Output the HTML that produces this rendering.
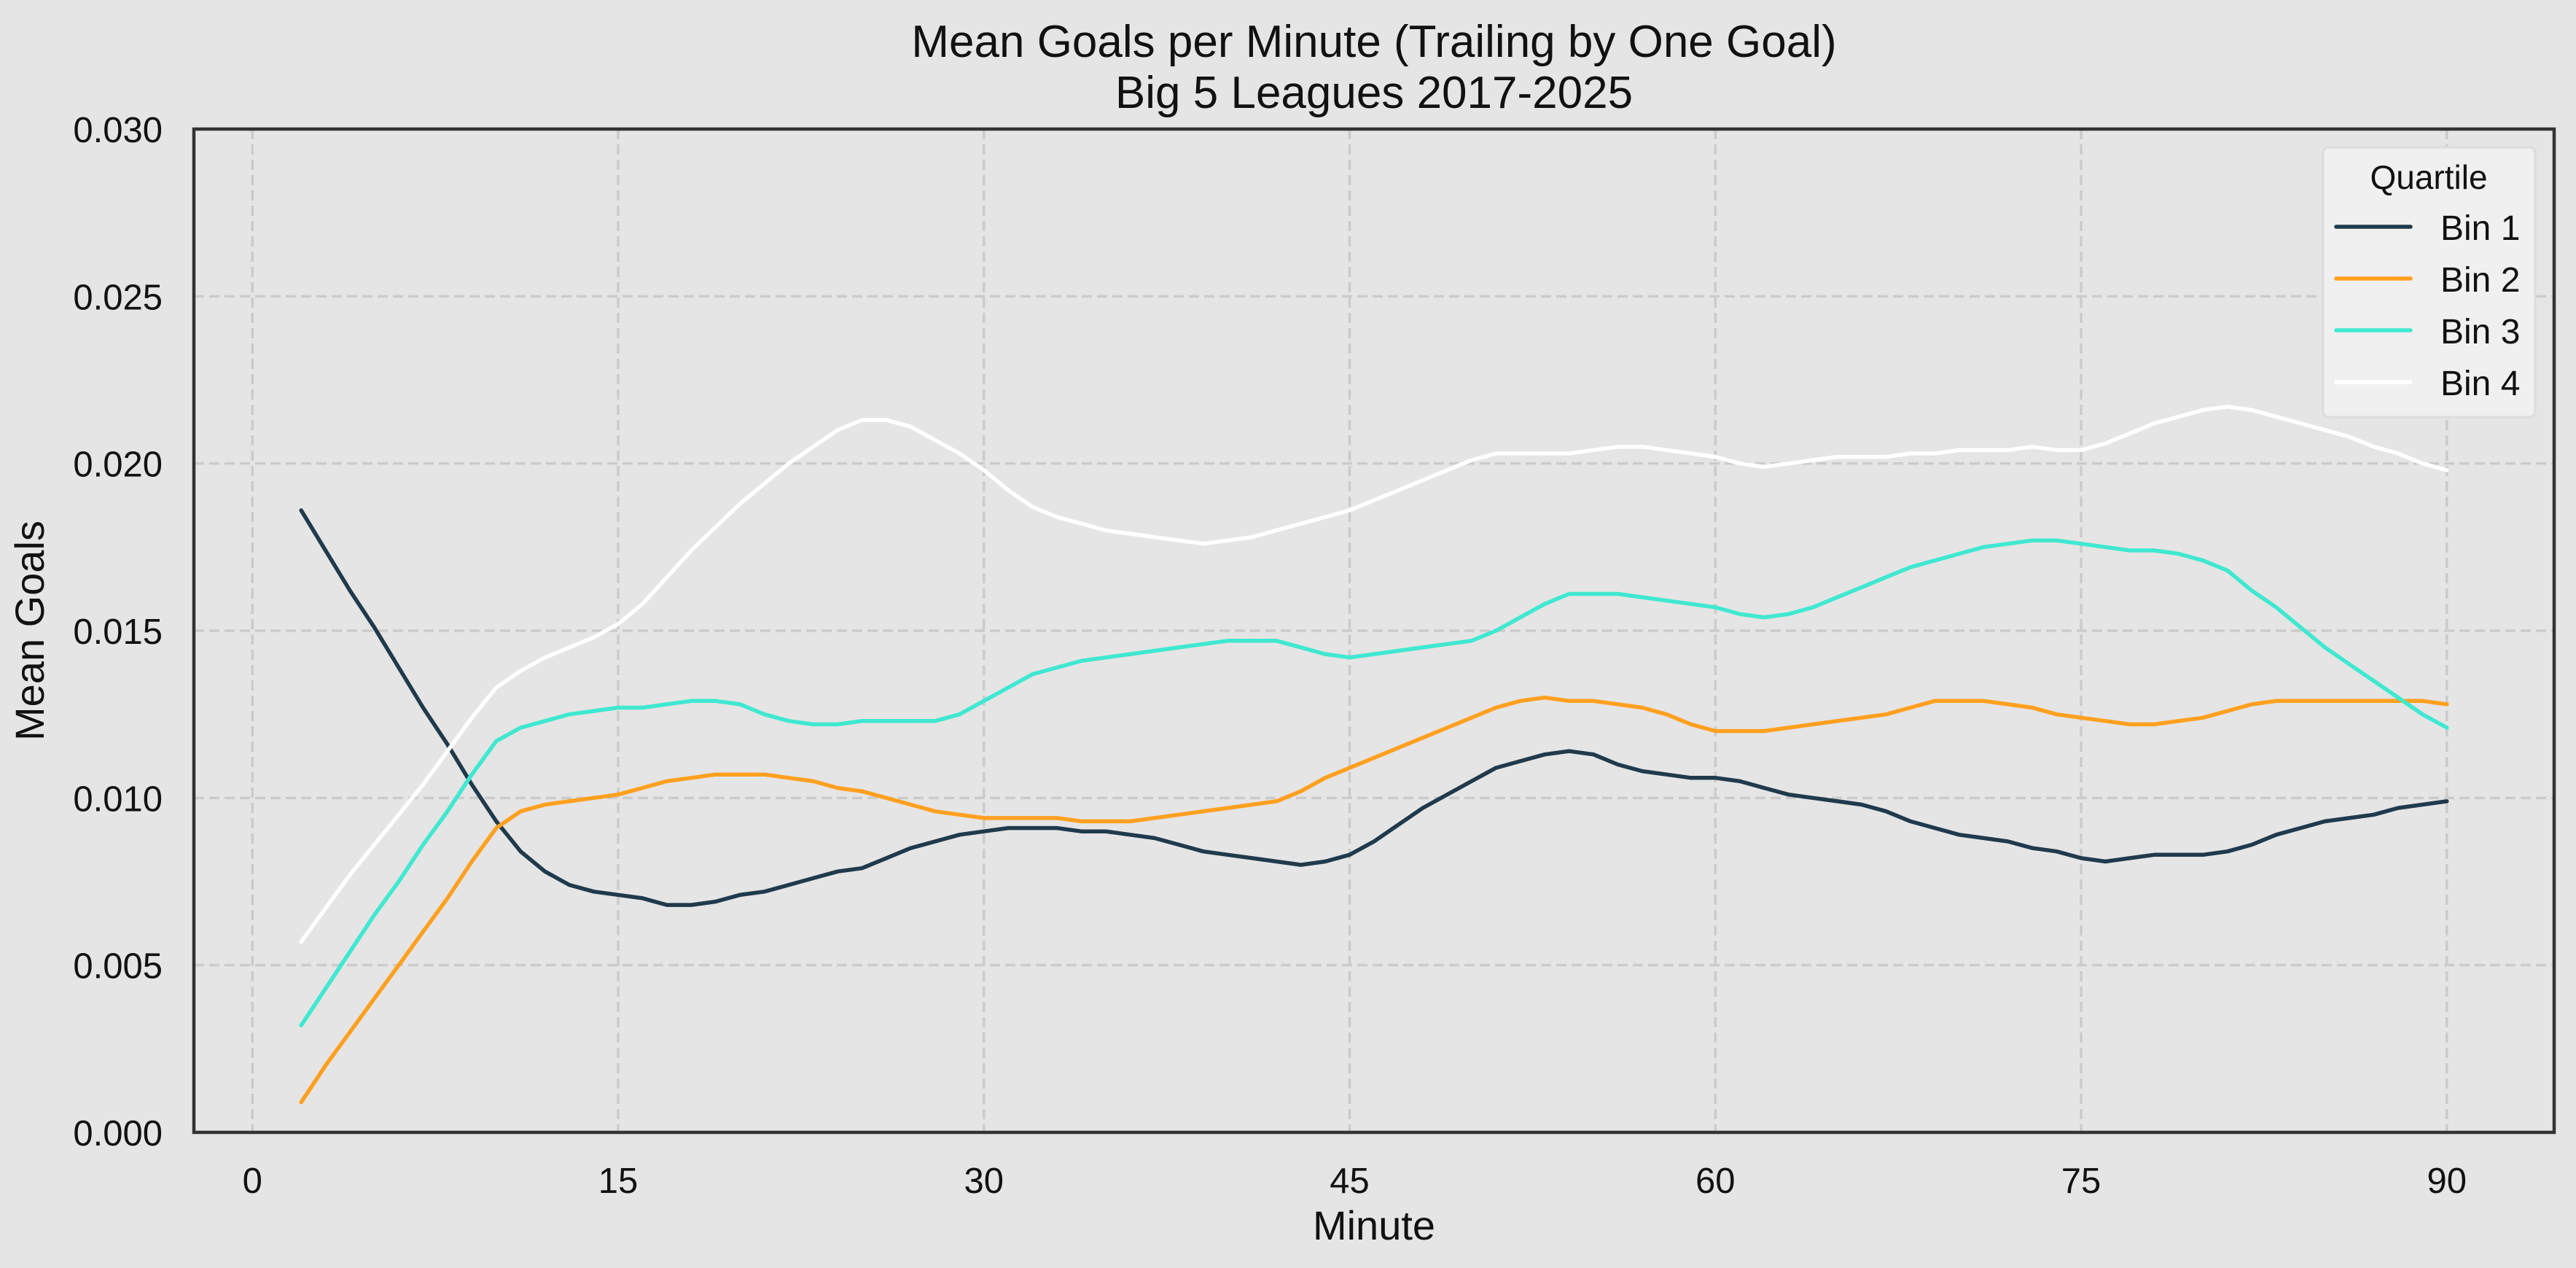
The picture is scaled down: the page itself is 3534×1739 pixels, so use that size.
<!DOCTYPE html>
<html><head><meta charset="utf-8"><style>
html,body{margin:0;padding:0;background:#e5e5e5;}
svg{display:block;font-family:"Liberation Sans",Arial,sans-serif;}
</style></head><body>
<svg id="chart" width="3534" height="1739" viewBox="0 0 3534 1739" xmlns="http://www.w3.org/2000/svg">
<rect x="0" y="0" width="3534" height="1739" fill="#e5e5e5"/>
<g id="grid"></g>
<g id="series"></g>
<rect x="266" y="177" width="3238" height="1376" fill="none" stroke="#333" stroke-width="4.5"/>
<g id="ticks"></g>
<text x="1885" y="78" font-size="62" text-anchor="middle" fill="#111">Mean Goals per Minute (Trailing by One Goal)</text>
<text x="1885" y="148" font-size="62" text-anchor="middle" fill="#111">Big 5 Leagues 2017-2025</text>
<text x="1885" y="1700" font-size="56" text-anchor="middle" fill="#111">Minute</text>
<text transform="translate(60,865) rotate(-90)" font-size="56" text-anchor="middle" fill="#111">Mean Goals</text>
<g id="legend">
<rect x="3187" y="202" width="291" height="370" rx="8" fill="#f0f0f0" stroke="#dcdcdc" stroke-width="3"/>
<text x="3332" y="259" font-size="46" text-anchor="middle" fill="#111">Quartile</text>
</g>
</svg>
<script>
const minutes = [];
for (let m = 2; m <= 90; m++) minutes.push(m);
const seriesNames = ["Bin 1","Bin 2","Bin 3","Bin 4"];
const bin1 = [0.0186,0.0174,0.0162,0.0151,0.0139,0.0127,0.0116,0.0104,0.0093,0.0084,0.0078,0.0074,0.0072,0.0071,0.0070,0.0068,0.0068,0.0069,0.0071,0.0072,0.0074,0.0076,0.0078,0.0079,0.0082,0.0085,0.0087,0.0089,0.0090,0.0091,0.0091,0.0091,0.0090,0.0090,0.0089,0.0088,0.0086,0.0084,0.0083,0.0082,0.0081,0.0080,0.0081,0.0083,0.0087,0.0092,0.0097,0.0101,0.0105,0.0109,0.0111,0.0113,0.0114,0.0113,0.0110,0.0108,0.0107,0.0106,0.0106,0.0105,0.0103,0.0101,0.0100,0.0099,0.0098,0.0096,0.0093,0.0091,0.0089,0.0088,0.0087,0.0085,0.0084,0.0082,0.0081,0.0082,0.0083,0.0083,0.0083,0.0084,0.0086,0.0089,0.0091,0.0093,0.0094,0.0095,0.0097,0.0098,0.0099];
const bin2 = [0.0009,0.0020,0.0030,0.0040,0.0050,0.0060,0.0070,0.0081,0.0091,0.0096,0.0098,0.0099,0.0100,0.0101,0.0103,0.0105,0.0106,0.0107,0.0107,0.0107,0.0106,0.0105,0.0103,0.0102,0.0100,0.0098,0.0096,0.0095,0.0094,0.0094,0.0094,0.0094,0.0093,0.0093,0.0093,0.0094,0.0095,0.0096,0.0097,0.0098,0.0099,0.0102,0.0106,0.0109,0.0112,0.0115,0.0118,0.0121,0.0124,0.0127,0.0129,0.0130,0.0129,0.0129,0.0128,0.0127,0.0125,0.0122,0.0120,0.0120,0.0120,0.0121,0.0122,0.0123,0.0124,0.0125,0.0127,0.0129,0.0129,0.0129,0.0128,0.0127,0.0125,0.0124,0.0123,0.0122,0.0122,0.0123,0.0124,0.0126,0.0128,0.0129,0.0129,0.0129,0.0129,0.0129,0.0129,0.0129,0.0128];
const bin3 = [0.0032,0.0043,0.0054,0.0065,0.0075,0.0086,0.0096,0.0107,0.0117,0.0121,0.0123,0.0125,0.0126,0.0127,0.0127,0.0128,0.0129,0.0129,0.0128,0.0125,0.0123,0.0122,0.0122,0.0123,0.0123,0.0123,0.0123,0.0125,0.0129,0.0133,0.0137,0.0139,0.0141,0.0142,0.0143,0.0144,0.0145,0.0146,0.0147,0.0147,0.0147,0.0145,0.0143,0.0142,0.0143,0.0144,0.0145,0.0146,0.0147,0.0150,0.0154,0.0158,0.0161,0.0161,0.0161,0.0160,0.0159,0.0158,0.0157,0.0155,0.0154,0.0155,0.0157,0.0160,0.0163,0.0166,0.0169,0.0171,0.0173,0.0175,0.0176,0.0177,0.0177,0.0176,0.0175,0.0174,0.0174,0.0173,0.0171,0.0168,0.0162,0.0157,0.0151,0.0145,0.0140,0.0135,0.0130,0.0125,0.0121];
const bin4 = [0.0057,0.0067,0.0077,0.0086,0.0095,0.0104,0.0114,0.0124,0.0133,0.0138,0.0142,0.0145,0.0148,0.0152,0.0158,0.0166,0.0174,0.0181,0.0188,0.0194,0.0200,0.0205,0.0210,0.0213,0.0213,0.0211,0.0207,0.0203,0.0198,0.0192,0.0187,0.0184,0.0182,0.0180,0.0179,0.0178,0.0177,0.0176,0.0177,0.0178,0.0180,0.0182,0.0184,0.0186,0.0189,0.0192,0.0195,0.0198,0.0201,0.0203,0.0203,0.0203,0.0203,0.0204,0.0205,0.0205,0.0204,0.0203,0.0202,0.0200,0.0199,0.0200,0.0201,0.0202,0.0202,0.0202,0.0203,0.0203,0.0204,0.0204,0.0204,0.0205,0.0204,0.0204,0.0206,0.0209,0.0212,0.0214,0.0216,0.0217,0.0216,0.0214,0.0212,0.0210,0.0208,0.0205,0.0203,0.0200,0.0198];
const xTicks = [0,15,30,45,60,75,90];
const yTicks = [0,0.005,0.010,0.015,0.020,0.025,0.030];
const yTickLabels = ["0.000","0.005","0.010","0.015","0.020","0.025","0.030"];

const NS = "http://www.w3.org/2000/svg";
const X0 = 266, X1 = 3504, Y0 = 1553, Y1 = 177;
const xMin = -2.4, xMax = 94.4, yMin = 0, yMax = 0.030;
function xs(v){ return X0 + (v - xMin) / (xMax - xMin) * (X1 - X0); }
function ys(v){ return Y0 - (v - yMin) / (yMax - yMin) * (Y0 - Y1); }
function mk(tag, attrs){ const e = document.createElementNS(NS, tag); for (const k in attrs) e.setAttribute(k, attrs[k]); return e; }

const grid = document.getElementById('grid');
const ticks = document.getElementById('ticks');
xTicks.forEach(t => {
  const g = mk('line', {x1: xs(t), x2: xs(t), y1: Y1, y2: Y0, stroke: '#cbcbcb', 'stroke-width': 3.5, 'stroke-dasharray': '14 7'});
  
  
  grid.appendChild(g);
  const l = mk('text', {x: xs(t), y: 1636, 'font-size': 49, 'text-anchor': 'middle', fill: '#111'});
  l.textContent = String(t);
  
  
  ticks.appendChild(l);
});
yTicks.forEach((t, i) => {
  if (i > 0 && i < yTicks.length - 1) {
    const g = mk('line', {x1: X0, x2: X1, y1: ys(t), y2: ys(t), stroke: '#cbcbcb', 'stroke-width': 3.5, 'stroke-dasharray': '14 7'});
    
    
    grid.appendChild(g);
  }
  const l = mk('text', {x: 223, y: ys(t) + 18, 'font-size': 49, 'text-anchor': 'end', fill: '#111'});
  l.textContent = yTickLabels[i];
  
  
  ticks.appendChild(l);
});

const colors = ['#203a4c', '#ffa020', '#40e8d0', '#ffffff'];
const allSeries = [bin1, bin2, bin3, bin4];
const sg = document.getElementById('series');
allSeries.forEach((vals, si) => {
  const d = vals.map((v, i) => (i ? 'L' : 'M') + xs(minutes[i]).toFixed(1) + ' ' + ys(v).toFixed(1)).join(' ');
  const p = mk('path', {d: d, fill: 'none', stroke: colors[si], 'stroke-width': 5.5, 'stroke-linejoin': 'round', 'stroke-linecap': 'round'});
  
  
  sg.appendChild(p);
});

const lg = document.getElementById('legend');
seriesNames.forEach((n, i) => {
  const y = 311 + i * 71;
  const ln = mk('line', {x1: 3205, x2: 3307, y1: y, y2: y, stroke: colors[i], 'stroke-width': 5.5, 'stroke-linecap': 'round'});
  
  
  lg.appendChild(ln);
  const t = mk('text', {x: 3348, y: y + 18, 'font-size': 48, fill: '#111'});
  t.textContent = n;
  
  
  lg.appendChild(t);
});
</script>
</body></html>
